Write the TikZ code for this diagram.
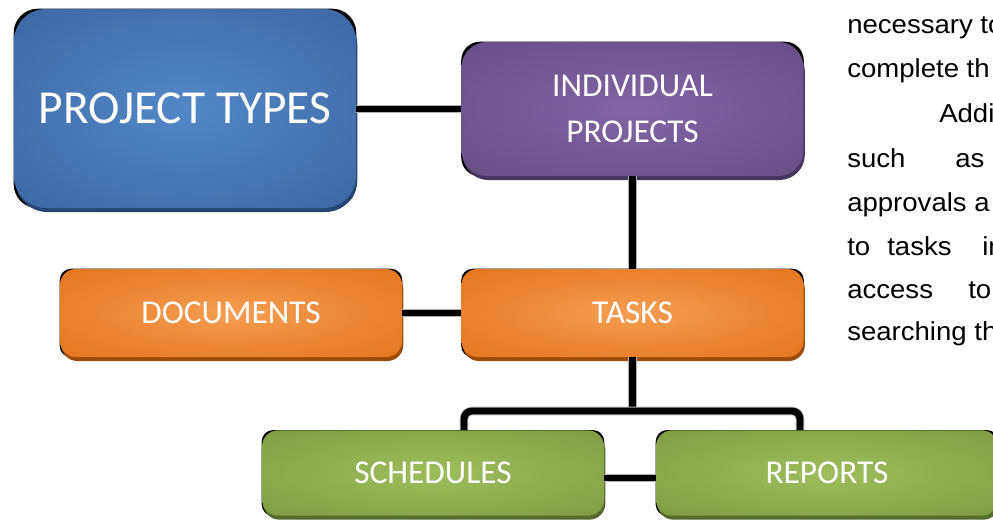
\documentclass[tikz,border=0pt]{standalone}
\usepackage{fontspec}
\setmainfont{Carlito}
\newfontfamily\bodyfont[FakeStretch=1.06]{Liberation Sans}
\usetikzlibrary{shadows,backgrounds,calc}
\pgfdeclareradialshading{blueglow}{\pgfpoint{0bp}{0bp}}{rgb(0bp)=(0.32,0.53,0.78); rgb(18bp)=(0.28,0.47,0.71); rgb(46bp)=(0.21,0.37,0.60); rgb(100bp)=(0.21,0.37,0.60)}
\pgfdeclareradialshading{purpleglow}{\pgfpoint{0bp}{0bp}}{rgb(0bp)=(0.51,0.40,0.65); rgb(18bp)=(0.45,0.35,0.59); rgb(46bp)=(0.37,0.29,0.49); rgb(100bp)=(0.37,0.29,0.49)}
\pgfdeclareradialshading{orangeglow}{\pgfpoint{0bp}{0bp}}{rgb(0bp)=(0.96,0.62,0.32); rgb(18bp)=(0.93,0.53,0.21); rgb(46bp)=(0.88,0.42,0.07); rgb(100bp)=(0.88,0.42,0.07)}
\pgfdeclareradialshading{greenglow}{\pgfpoint{0bp}{0bp}}{rgb(0bp)=(0.62,0.74,0.36); rgb(18bp)=(0.56,0.68,0.31); rgb(46bp)=(0.46,0.57,0.24); rgb(100bp)=(0.46,0.57,0.24)}
\definecolor{blueshadow}{rgb}{0.15,0.27,0.45}
\definecolor{purpleshadow}{rgb}{0.27,0.21,0.37}
\definecolor{orangeshadow}{rgb}{0.62,0.30,0.04}
\definecolor{greenshadow}{rgb}{0.33,0.42,0.17}
\begin{document}
\begin{tikzpicture}[x=0.75pt,y=-0.75pt,
  box/.style={text=white, align=center, inner sep=0pt,
    font=\fontsize{25}{34.5}\selectfont, minimum width=256.5pt},
  bluebox/.style={box, shading=blueglow, rounded corners=24pt,
    drop shadow={shadow xshift=1pt, shadow yshift=-3pt, fill=blueshadow, opacity=1}},
  purplebox/.style={box, shading=purpleglow, rounded corners=19pt,
    drop shadow={shadow xshift=1pt, shadow yshift=-3pt, fill=purpleshadow, opacity=1}},
  orangebox/.style={box, shading=orangeglow, rounded corners=12pt,
    drop shadow={shadow xshift=1pt, shadow yshift=-3pt, fill=orangeshadow, opacity=1}},
  greenbox/.style={box, shading=greenglow, rounded corners=12pt,
    drop shadow={shadow xshift=1pt, shadow yshift=-3pt, fill=greenshadow, opacity=1}},
  conn/.style={line width=5.2pt, black, preaction={draw=gray!60, line width=6.4pt}},
  bodytext/.style={anchor=base west, inner sep=0pt, font=\bodyfont\fontsize{19.5}{20}\selectfont}
]
\useasboundingbox (0,0) rectangle (993,521);
\clip (0,0) rectangle (993,521);

% boxes
\node[bluebox, minimum height=149.25pt, font=\fontsize{35.5}{40}\selectfont] (pt) at (185,108.5) {PROJECT TYPES};
\node[purplebox, minimum height=100.5pt] (ip) at (632.5,109) {INDIVIDUAL\\PROJECTS};
\node[orangebox, minimum height=66pt] (doc) at (231,313) {DOCUMENTS};
\node[orangebox, minimum height=66pt] (tasks) at (632.5,313) {TASKS};
\node[greenbox, minimum height=64pt] (sched) at (433,473) {SCHEDULES};
\node[greenbox, minimum height=64pt] (rep) at (827,473) {REPORTS};

% white page and black corner backing
\begin{scope}[on background layer]
  \fill[white] (0,0) rectangle (993,521);
  \fill[black, rounded corners=18pt] (pt.north west) rectangle (pt.south east);
  \fill[black, rounded corners=14pt] (ip.north west) rectangle (ip.south east);
  \fill[black, rounded corners=8.5pt] (doc.north west) rectangle (doc.south east);
  \fill[black, rounded corners=8.5pt] (tasks.north west) rectangle (tasks.south east);
  \fill[black, rounded corners=8.5pt] (sched.north west) rectangle (sched.south east);
  \fill[black, rounded corners=8.5pt] (rep.north west) rectangle (rep.south east);
\end{scope}

% connectors
\coordinate (bl) at (464,411);
\coordinate (br) at (800,411);
\coordinate (srm) at (630,478);
\draw[conn] (ip.west -| pt.east) -- (ip.west);
\draw[conn] (ip.south) -- (tasks.north);
\draw[conn] (doc.east) -- (tasks.west);
\draw[conn] (tasks.south) -- (tasks.south |- bl);
\draw[conn, rounded corners=6pt] (sched.north -| bl) -- (bl) -- (br) -- (rep.north -| br);
\draw[conn] (srm -| sched.east) -- (srm -| rep.west);

% body text at right
\node[bodytext] (t1) at (847,33) {necessary to};
\node[bodytext] (t2) at (847,77) {complete th};
\node[bodytext] (t3) at (939,122) {Addi};
\node[bodytext] (t4a) at (847,167) {such};
\node[bodytext] (t4b) at (955,167) {as};
\node[bodytext] (t5) at (847,211) {approvals a};
\node[bodytext] (t6a) at (847,255) {to};
\node[bodytext] (t6b) at (887,255) {tasks};
\node[bodytext] (t6c) at (982,255) {in};
\node[bodytext] (t7a) at (847,298) {access};
\node[bodytext] (t7b) at (968,298) {to};
\node[bodytext] (t8) at (847,340) {searching th};
\end{tikzpicture}
\end{document}
